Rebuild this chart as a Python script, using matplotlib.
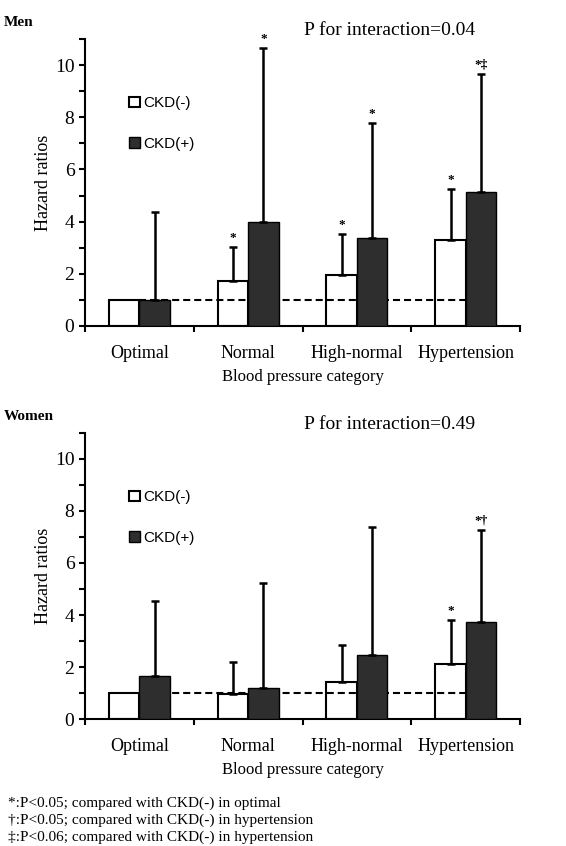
import numpy as np
import matplotlib
matplotlib.use("Agg")
import matplotlib.pyplot as plt

plt.rcParams['font.family'] = ['Liberation Serif', 'DejaVu Serif']

# data
categories = ['Optimal', 'Normal', 'High-normal', 'Hypertension']

men_ckd_neg = [1.0, 1.71, 1.97, 3.28]
men_ckd_neg_upper = [np.nan, 3.04, 3.53, 5.25]
men_ckd_pos = [1.0, 3.97, 3.37, 5.15]
men_ckd_pos_upper = [4.38, 10.66, 7.77, 9.66]
men_neg_marks = ['', '*', '*', '*']
men_pos_marks = ['', '*', '*', '*\u2021']

women_ckd_neg = [1.0, 0.98, 1.42, 2.13]
women_ckd_neg_upper = [np.nan, 2.18, 2.85, 3.8]
women_ckd_pos = [1.65, 1.18, 2.46, 3.74]
women_ckd_pos_upper = [4.55, 5.24, 7.37, 7.27]
women_neg_marks = ['', '', '', '*']
women_pos_marks = ['', '', '', '*\u2020']

footnotes = ['*:P<0.05; compared with CKD(-) in optimal',
             '\u2020:P<0.05; compared with CKD(-) in hypertension',
             '\u2021:P<0.06; compared with CKD(-) in hypertension']


def panel(ax, neg, neg_up, pos, pos_up, neg_marks, pos_marks, title, pval):
    x = np.arange(len(categories))
    w = 0.28
    xn = x + 0.5 - w / 2
    xp = x + 0.5 + w / 2
    b1 = ax.bar(xn, neg, w, color='white', edgecolor='black', linewidth=1.5,
                zorder=1, label='CKD(-)')
    # reference line at HR = 1
    ax.plot([0.5, 3.5], [1, 1], color='black', lw=1.5,
            linestyle=(0, (3.4, 1.9)), zorder=2)
    b2 = ax.bar(xp, pos, w, color='#2e2e2e', edgecolor='black', linewidth=1.0,
                zorder=3, label='CKD(+)')

    for xs, vals, ups, marks in [(xn, neg, neg_up, neg_marks),
                                 (xp, pos, pos_up, pos_marks)]:
        for xi, v, u, m in zip(xs, vals, ups, marks):
            if not np.isnan(u):
                ax.errorbar(xi, v, yerr=[[0], [u - v]], fmt='none',
                            ecolor='black', elinewidth=1.8, capsize=3,
                            capthick=1.8, zorder=4)
                top = u
            else:
                top = v
            if m:
                ax.text(xi, top + 0.12, m, ha='center', va='bottom',
                        fontsize=9.5, fontweight='bold')

    ax.set_xlim(0, 4)
    ax.set_ylim(0, 11)
    ax.set_xticks(np.arange(5))
    ax.set_xticklabels([])
    ax.set_xticks(x + 0.5, minor=True)
    ax.set_xticklabels(categories, minor=True, fontsize=13)
    ax.tick_params(axis='x', which='minor', length=0, pad=14)
    ax.tick_params(axis='x', which='major', length=4, width=1.5, direction='out')
    ax.set_yticks([0, 2, 4, 6, 8, 10])
    ax.set_yticks([1, 3, 5, 7, 9, 11], minor=True)
    ax.tick_params(axis='y', which='both', length=4, width=1.5, labelsize=14)
    ax.spines['top'].set_visible(False)
    ax.spines['right'].set_visible(False)
    ax.spines['left'].set_linewidth(1.5)
    ax.spines['bottom'].set_linewidth(1.5)
    ax.set_xlabel('Blood pressure category', fontsize=12, labelpad=5)
    ax.set_ylabel('Hazard ratios', fontsize=13, labelpad=2)

    ax.legend(handles=[b1, b2], loc='upper left', bbox_to_anchor=(0.07, 0.848),
              frameon=False, handlelength=0.7, handleheight=0.7,
              handletextpad=0.2, labelspacing=1.75,
              prop={'family': 'Liberation Sans', 'size': 11})
    ax.text(-0.186, 1.058, title, transform=ax.transAxes, fontsize=11,
            fontweight='bold', va='center')
    ax.text(0.7, 1.06, pval, transform=ax.transAxes, fontsize=14,
            ha='center', va='top')


fig = plt.figure(figsize=(5.66, 8.46), dpi=100)
ax1 = fig.add_axes([0.150, 0.6147, 0.769, 0.3392])
ax2 = fig.add_axes([0.150, 0.1501, 0.769, 0.3381])

panel(ax1, men_ckd_neg, men_ckd_neg_upper, men_ckd_pos, men_ckd_pos_upper,
      men_neg_marks, men_pos_marks, 'Men', 'P for interaction=0.04')
panel(ax2, women_ckd_neg, women_ckd_neg_upper, women_ckd_pos,
      women_ckd_pos_upper, women_neg_marks, women_pos_marks, 'Women',
      'P for interaction=0.49')

for i, line in enumerate(footnotes):
    fig.text(0.014, 0.050 - i * 0.0196, line, fontsize=11, va='center')

fig.savefig('out.png', dpi=100)
